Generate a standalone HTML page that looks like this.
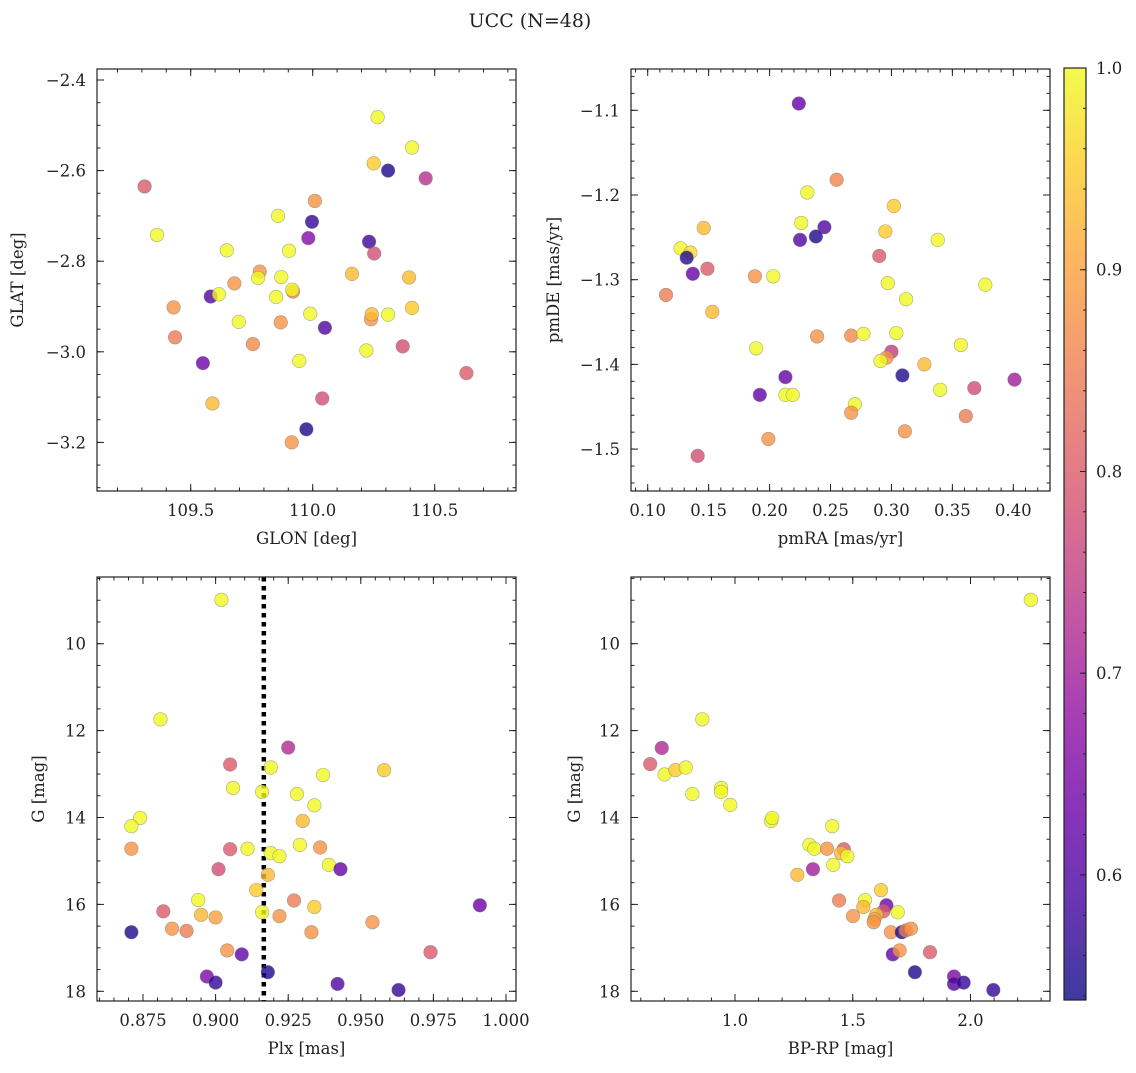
<!DOCTYPE html>
<html><head><meta charset="utf-8">
<style>
html,body{margin:0;padding:0;background:#fff;}
svg text{font-family:"DejaVu Serif","Liberation Serif",serif;fill:#222;}
</style></head>
<body>
<svg id="fig" width="1136" height="1068" xmlns="http://www.w3.org/2000/svg">
<text x="530" y="27" text-anchor="middle" font-size="19">UCC (N=48)</text>
</svg>
<script>
// ---- Panel 1: GLON / GLAT ----
const p1Glon=[109.311,109.362,109.430,109.436,109.550,109.589,109.582,109.616,109.648,109.679,109.697,109.755,109.783,109.776,109.858,109.871,109.850,109.869,109.903,109.919,109.916,109.945,109.914,109.974,109.982,109.997,109.990,110.009,110.039,110.050,110.161,110.220,110.231,110.252,110.239,110.242,110.250,110.266,110.309,110.309,110.369,110.395,110.407,110.407,110.463,110.630];
const p1Glat=[-2.635,-2.742,-2.902,-2.968,-3.025,-3.114,-2.878,-2.873,-2.776,-2.849,-2.934,-2.983,-2.823,-2.837,-2.700,-2.835,-2.879,-2.935,-2.777,-2.867,-2.863,-3.020,-3.200,-3.171,-2.749,-2.713,-2.916,-2.667,-3.103,-2.947,-2.828,-2.997,-2.757,-2.783,-2.928,-2.917,-2.584,-2.482,-2.600,-2.918,-2.988,-2.836,-2.549,-2.903,-2.617,-3.047];
const p1C=[0.80,1.0,0.88,0.85,0.63,0.93,0.60,1.0,1.0,0.88,1.0,0.87,0.88,1.0,1.0,1.0,1.0,0.88,1.0,0.87,1.0,1.0,0.88,0.55,0.66,0.57,1.0,0.88,0.78,0.60,0.93,1.0,0.58,0.78,0.88,0.93,0.95,1.0,0.55,1.0,0.78,0.93,1.0,0.95,0.73,0.80];
// ---- Panel 2: pmRA / pmDE ----
const p2Pmra=[0.224,0.255,0.231,0.302,0.146,0.226,0.245,0.238,0.225,0.295,0.338,0.127,0.135,0.132,0.290,0.149,0.137,0.188,0.203,0.297,0.377,0.115,0.312,0.153,0.239,0.267,0.277,0.304,0.189,0.357,0.300,0.296,0.291,0.327,0.309,0.401,0.213,0.192,0.213,0.219,0.340,0.368,0.270,0.267,0.361,0.311,0.199,0.141];
const p2Pmde=[-1.092,-1.182,-1.197,-1.213,-1.239,-1.233,-1.238,-1.249,-1.253,-1.243,-1.253,-1.263,-1.268,-1.274,-1.272,-1.287,-1.293,-1.296,-1.296,-1.304,-1.306,-1.318,-1.323,-1.338,-1.367,-1.366,-1.364,-1.363,-1.381,-1.377,-1.385,-1.392,-1.396,-1.400,-1.413,-1.418,-1.415,-1.436,-1.436,-1.436,-1.430,-1.428,-1.447,-1.457,-1.461,-1.479,-1.488,-1.508];
const p2C=[0.62,0.86,1.0,0.95,0.93,1.0,0.60,0.55,0.60,0.95,1.0,1.0,0.97,0.56,0.80,0.80,0.62,0.88,1.0,1.0,1.0,0.85,1.0,0.93,0.88,0.87,1.0,1.0,1.0,1.0,0.75,0.88,1.0,0.93,0.55,0.70,0.62,0.62,1.0,1.0,1.0,0.78,1.0,0.88,0.85,0.88,0.88,0.78];
// ---- Panel 3: Plx / G ----
const p3Plx=[0.902,0.881,0.925,0.905,0.919,0.958,0.937,0.906,0.916,0.928,0.934,0.874,0.871,0.930,0.871,0.905,0.911,0.929,0.936,0.919,0.922,0.939,0.943,0.901,0.918,0.914,0.894,0.927,0.934,0.991,0.882,0.916,0.895,0.900,0.922,0.954,0.871,0.885,0.890,0.933,0.904,0.909,0.974,0.897,0.918,0.900,0.942,0.963];
const p3G=[8.99,11.74,12.39,12.78,12.85,12.91,13.02,13.32,13.41,13.46,13.72,14.01,14.20,14.08,14.72,14.73,14.72,14.63,14.69,14.82,14.89,15.09,15.19,15.19,15.32,15.67,15.90,15.91,16.06,16.02,16.16,16.18,16.24,16.30,16.27,16.41,16.64,16.56,16.61,16.64,17.06,17.15,17.10,17.66,17.56,17.80,17.83,17.97];
const p3C=[1.0,1.0,0.72,0.80,1.0,0.95,1.0,1.0,1.0,1.0,1.0,1.0,1.0,0.93,0.88,0.80,1.0,1.0,0.88,1.0,1.0,1.0,0.62,0.78,0.93,0.95,1.0,0.85,0.95,0.63,0.80,1.0,0.93,0.90,0.88,0.88,0.55,0.88,0.85,0.88,0.88,0.62,0.80,0.65,0.55,0.57,0.60,0.57];
const plxRef=[0.9166];
// ---- Panel 4: BP-RP / G ----
const p4Col=[2.256,0.861,0.689,0.640,0.701,0.747,0.791,0.819,0.941,0.941,0.980,1.153,1.158,1.413,1.316,1.337,1.391,1.462,1.450,1.477,1.417,1.331,1.265,1.620,1.442,1.552,1.643,1.545,1.630,1.691,1.600,1.592,1.589,1.501,1.662,1.708,1.725,1.747,1.670,1.699,1.828,1.764,1.930,1.930,1.971,2.097];
const p4G=[8.99,11.74,12.40,12.77,13.01,12.91,12.85,13.46,13.32,13.41,13.71,14.08,14.01,14.20,14.63,14.72,14.72,14.73,14.82,14.89,15.09,15.19,15.32,15.67,15.91,15.90,16.02,16.06,16.16,16.18,16.24,16.34,16.41,16.27,16.64,16.64,16.60,16.56,17.15,17.06,17.10,17.56,17.66,17.83,17.80,17.97];
const p4C=[1.0,1.0,0.72,0.80,1.0,0.95,1.0,1.0,1.0,1.0,1.0,1.0,1.0,1.0,1.0,1.0,0.88,0.80,0.93,1.0,1.0,0.70,0.93,0.95,0.85,1.0,0.63,0.93,0.80,1.0,0.93,0.90,0.88,0.88,0.88,0.55,0.85,0.88,0.62,0.88,0.80,0.55,0.65,0.60,0.57,0.57];
// ---- Colorbar ----
const cbTicks=[0.6,0.7,0.8,0.9,1.0];
const cbMin=0.538, cbMax=1.0;

const NS="http://www.w3.org/2000/svg";
const svg=document.getElementById('fig');
function mk(tag,attrs,parent){const e=document.createElementNS(NS,tag);for(const k in attrs)e.setAttribute(k,attrs[k]);(parent||svg).appendChild(e);return e;}

const plasma=[[13,8,135],[65,4,157],[106,0,168],[143,13,164],[177,42,144],[204,71,120],[225,100,98],[242,132,75],[252,166,54],[252,206,37],[240,249,33]];
function cmap(v){let t=(v-cbMin)/(cbMax-cbMin);t=Math.max(0,Math.min(1,t));const f=t*10,i=Math.min(9,Math.floor(f)),r=f-i;const a=plasma[i],b=plasma[i+1];return 'rgb('+a.map((x,k)=>Math.round(x+(b[k]-x)*r)).join(',')+')';}
function lin(d0,d1,r0,r1){return v=>r0+(v-d0)*(r1-r0)/(d1-d0);}
function fmt(v,d){let s=v.toFixed(d);if(v<0)s='\u2212'+s.slice(1);return s;}

function panel(o){
  const g=mk('g',{});
  
  
  const X=lin(o.xd[0],o.xd[1],o.box[0],o.box[2]);
  const Y=lin(o.yd[0],o.yd[1],o.box[1],o.box[3]);
  if(o.vline){o.vline.forEach(v=>{const l=mk('line',{x1:X(v),x2:X(v),y1:o.box[1],y2:o.box[3],stroke:'#000','stroke-width':4.5,'stroke-dasharray':'4.5,4.5'},g);
    
    });}
  for(let i=0;i<o.xs.length;i++){
    const c=mk('circle',{cx:X(o.xs[i]),cy:Y(o.ys[i]),r:6.8,fill:cmap(o.cs[i]),'fill-opacity':0.8,stroke:'#777','stroke-opacity':0.6,'stroke-width':0.6},g);
    
    
  }
  const fr=mk('rect',{x:o.box[0],y:o.box[1],width:o.box[2]-o.box[0],height:o.box[3]-o.box[1],fill:'none',stroke:'#222','stroke-width':1.2},g);
  
  
  const tk=mk('g',{stroke:'#222','stroke-width':1},g);
  
  
  function ticksX(step,len,labels){
    const s=Math.ceil(Math.min(o.xd[0],o.xd[1])/step-1e-6),e=Math.floor(Math.max(o.xd[0],o.xd[1])/step+1e-6);
    for(let k=s;k<=e;k++){const v=k*step,x=X(v);
      mk('line',{x1:x,x2:x,y1:o.box[3],y2:o.box[3]-len},tk);mk('line',{x1:x,x2:x,y1:o.box[1],y2:o.box[1]+len},tk);
      if(labels){const t=mk('text',{x:x,y:o.box[3]+25,'text-anchor':'middle','font-size':16.5},g);t.textContent=fmt(v,o.xdec);
        
        }
    }}
  function ticksY(step,len,labels){
    const s=Math.ceil(Math.min(o.yd[0],o.yd[1])/step-1e-6),e=Math.floor(Math.max(o.yd[0],o.yd[1])/step+1e-6);
    for(let k=s;k<=e;k++){const v=k*step,y=Y(v);
      mk('line',{x1:o.box[0],x2:o.box[0]+len,y1:y,y2:y},tk);mk('line',{x1:o.box[2],x2:o.box[2]-len,y1:y,y2:y},tk);
      if(labels){const t=mk('text',{x:o.box[0]-11,y:y+6,'text-anchor':'end','font-size':16.5},g);t.textContent=fmt(v,o.ydec);
        
        }
    }}
  ticksX(o.xmaj,7,true);ticksX(o.xmin,3.5,false);
  ticksY(o.ymaj,7,true);ticksY(o.ymin,3.5,false);
  const xl=mk('text',{x:(o.box[0]+o.box[2])/2,y:o.box[3]+53,'text-anchor':'middle','font-size':16.5},g);xl.textContent=o.xlabel;
  
  
  const yc=(o.box[1]+o.box[3])/2;
  const yl=mk('text',{x:o.ylx,y:yc,'text-anchor':'middle','font-size':16.5,transform:'rotate(-90 '+o.ylx+' '+yc+')'},g);yl.textContent=o.ylabel;
  
  
}

panel({name:'panel-glon-glat',box:[97,69,516,491],xd:[110+(97-312.7)/244,110+(516-312.7)/244],yd:[-2.4+11/453,-2.4-411/453],
  xs:p1Glon,ys:p1Glat,cs:p1C,xmaj:0.5,xmin:0.1,ymaj:0.2,ymin:0.05,xdec:1,ydec:1,xlabel:'GLON [deg]',ylabel:'GLAT [deg]',ylx:23});
panel({name:'panel-pmra-pmde',box:[631,69,1050,491],xd:[0.1+(631-647.7)/1218.7,0.1+(1050-647.7)/1218.7],yd:[-1.1+41.3/847,-1.1-380.7/847],
  xs:p2Pmra,ys:p2Pmde,cs:p2C,xmaj:0.05,xmin:0.01,ymaj:0.1,ymin:0.02,xdec:2,ydec:1,xlabel:'pmRA [mas/yr]',ylabel:'pmDE [mas/yr]',ylx:559});
panel({name:'panel-plx-g',box:[97,577,516,1001],xd:[0.875+(97-143)/2904,0.875+(516-143)/2904],yd:[10-66.7/43.45,18+9.7/43.45],
  xs:p3Plx,ys:p3G,cs:p3C,xmaj:0.025,xmin:0.005,ymaj:2,ymin:0.5,xdec:3,ydec:0,xlabel:'Plx [mas]',ylabel:'G [mag]',ylx:44,vline:plxRef});
panel({name:'panel-color-magnitude',box:[631,577,1050,1001],xd:[1+(631-735)/235.5,1+(1050-735)/235.5],yd:[10-66.7/43.45,18+9.7/43.45],
  xs:p4Col,ys:p4G,cs:p4C,xmaj:0.5,xmin:0.1,ymaj:2,ymin:0.5,xdec:1,ydec:0,xlabel:'BP-RP [mag]',ylabel:'G [mag]',ylx:580});

(function(){
  const cb=mk('g',{});
  
  
  const x0=1064,x1=1086,y0=68,y1=1000;
  const defs=mk('defs',{},cb);
  const lg=mk('linearGradient',{id:'pl',x1:0,y1:1,x2:0,y2:0},defs);
  for(let i=0;i<=10;i++){mk('stop',{offset:(i*10)+'%','stop-color':'rgb('+plasma[i].join(',')+')'},lg);}
  mk('rect',{x:x0,y:y0,width:x1-x0,height:y1-y0,fill:'url(#pl)','fill-opacity':0.8},cb);
  mk('rect',{x:x0,y:y0,width:x1-x0,height:y1-y0,fill:'none',stroke:'#222','stroke-width':1.2},cb);
  const Y=lin(cbMin,cbMax,y1,y0);
  cbTicks.forEach(v=>{const y=Y(v);
    mk('line',{x1:x1,x2:x1-6,y1:y,y2:y,stroke:'#222'},cb);
    const t=mk('text',{x:x1+10,y:y+6,'font-size':16.5},cb);t.textContent=v.toFixed(1);
    
    });
  for(let v=0.54;v<=1.0001;v+=0.02){const y=Y(v);mk('line',{x1:x1,x2:x1-3,y1:y,y2:y,stroke:'#222'},cb);}
})();
</script>
</body></html>
